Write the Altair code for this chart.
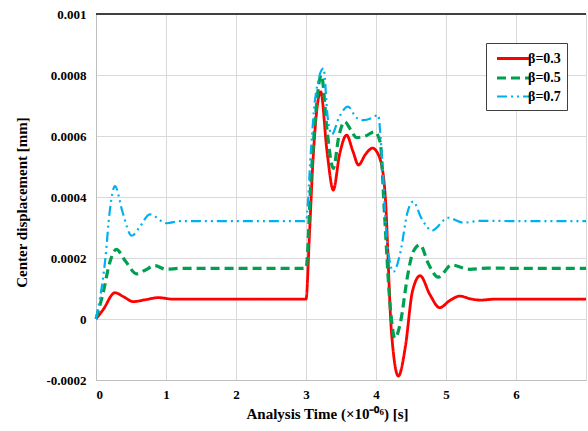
import altair as alt
import pandas as pd

# ---- data ----
series_names = ["β=0.3", "β=0.5", "β=0.7"]

red_t = [0, 0.1, 0.27, 0.4, 0.53, 0.7, 0.89, 1.1, 1.5, 2.0, 2.5, 3.0, 3.05, 3.1, 3.21, 3.3, 3.39,
         3.48, 3.58, 3.67, 3.75, 3.85, 3.95, 4.05, 4.13, 4.22, 4.32, 4.42, 4.52, 4.63, 4.77, 4.91,
         5.05, 5.2, 5.35, 5.49, 5.7, 6.0, 6.5, 7.0]
red_v = [0, 0.00003, 0.000086, 0.000072, 0.000057, 0.000063, 0.00007, 0.000065, 0.000065, 0.000065,
         0.000065, 0.000065, 0.00028, 0.00052, 0.000745, 0.00055, 0.000423, 0.00054, 0.000603,
         0.00055, 0.000505, 0.00054, 0.00056, 0.00053, 0.00041, -0.00004, -0.000187, -0.00009,
         0.00009, 0.000142, 0.00008, 0.000037, 0.00006, 0.000075, 0.000066, 0.000062, 0.000065,
         0.000065, 0.000065, 0.000065]

green_t = [0, 0.1, 0.2, 0.29, 0.42, 0.58, 0.7, 0.84, 1.0, 1.2, 2.0, 3.0, 3.07, 3.12, 3.22, 3.3,
           3.39, 3.47, 3.55, 3.64, 3.72, 3.85, 3.98, 4.06, 4.12, 4.2, 4.27, 4.35, 4.45, 4.53, 4.63,
           4.75, 4.89, 5.08, 5.34, 5.6, 6.0, 7.0]
green_v = [0, 0.000084, 0.000188, 0.000228, 0.00019, 0.000148, 0.00016, 0.000175, 0.000163,
           0.000166, 0.000166, 0.000166, 0.00045, 0.00062, 0.0008, 0.00062, 0.000494, 0.0006,
           0.000647, 0.00062, 0.000595, 0.0006, 0.000614, 0.00058, 0.00035, 0.00005, -0.000063,
           -0.00001, 0.00014, 0.00022, 0.000243, 0.00018, 0.000137, 0.000177, 0.000163, 0.000167,
           0.000166, 0.000166]

blue_t = [0, 0.13, 0.2, 0.27, 0.38, 0.51, 0.62, 0.77, 1.01, 1.2, 2.0, 3.0, 3.07, 3.13, 3.25,
          3.31, 3.37, 3.47, 3.6, 3.72, 3.82, 3.95, 4.03, 4.08, 4.16, 4.25, 4.35, 4.45, 4.53, 4.65,
          4.8, 5.03, 5.25, 5.5, 6.0, 7.0]
blue_v = [0, 0.00019, 0.00036, 0.000436, 0.00035, 0.000273, 0.0003, 0.000343, 0.000314, 0.000321,
          0.000321, 0.000321, 0.00055, 0.00072, 0.000822, 0.00066, 0.000605, 0.00066, 0.000696,
          0.00066, 0.000652, 0.00066, 0.000669, 0.00055, 0.00025, 0.000155, 0.00022, 0.00035,
          0.000385, 0.00033, 0.00029, 0.000332, 0.000316, 0.000322, 0.000321, 0.000321]

x_ticks = [0, 1, 2, 3, 4, 5, 6, 7]
y_ticks = [-0.0002, 0, 0.0002, 0.0004, 0.0006, 0.0008, 0.001]

rows = []
for name, ts, vs in zip(series_names, [red_t, green_t, blue_t], [red_v, green_v, blue_v]):
    for i, (t, v) in enumerate(zip(ts, vs)):
        rows.append({"series": name, "t": t, "v": v, "order": i})
df = pd.DataFrame(rows)

FONT = "Liberation Serif"

x_enc = alt.X(
    "t:Q",
    scale=alt.Scale(domain=[0, 7], nice=False, zero=False),
    axis=alt.Axis(
        values=x_ticks,
        labelExpr="datum.value > 6.5 ? '' : format(datum.value, 'd')",
        title="Analysis Time (×10⁻⁰⁶) [s]",
        titleX=231, titleY=33, titleBaseline="middle",
        titleFont=FONT, titleFontSize=15, titleFontWeight="bold", titleColor="black",
        labelFont=FONT, labelFontSize=13, labelFontWeight="bold", labelColor="black",
        labelPadding=8, ticks=False,
        gridColor="#d9d9d9", domainColor="#bfbfbf", grid=True,
    ),
)
y_enc = alt.Y(
    "v:Q",
    scale=alt.Scale(domain=[-0.0002, 0.001], nice=False, zero=False),
    axis=alt.Axis(
        values=y_ticks,
        labelExpr="abs(datum.value) < 1e-12 ? '0' : replace(format(datum.value, '.4~f'), '\u2212', '-')",
        title="Center displacement [mm]",
        titleX=-75, titleY=188, titleAngle=-90, titleAlign="center", titleBaseline="middle",
        titleFont=FONT, titleFontSize=15, titleFontWeight="bold", titleColor="black",
        labelFont=FONT, labelFontSize=13, labelFontWeight="bold", labelColor="black",
        labelPadding=10, ticks=False,
        gridColor="#d9d9d9", domainColor="#bfbfbf", grid=True,
    ),
)

legend = alt.Legend(
    orient="none", legendX=390, legendY=29,
    symbolType="M-0.625,0H3.375", symbolSize=256,
    labelFont=FONT, labelFontSize=14, labelFontWeight="bold", labelColor="black",
    labelOffset=16, padding=6, rowPadding=2,
    fillColor="white", strokeColor="#404040",
)

lines = alt.Chart(df).mark_line(interpolate="monotone").encode(
    x=x_enc,
    y=y_enc,
    order="order:Q",
    color=alt.Color("series:N", title=None,
                    scale=alt.Scale(domain=series_names, range=["#ff0000", "#00a050", "#00b0f0"]),
                    legend=legend),
    strokeDash=alt.StrokeDash("series:N", title=None,
                              scale=alt.Scale(domain=series_names,
                                              range=[[1, 0], [9, 5], [10, 4, 2, 4, 2, 4]]),
                              legend=legend),
    strokeWidth=alt.StrokeWidth("series:N", title=None,
                                scale=alt.Scale(type="ordinal", domain=series_names, range=[2.8, 3.2, 2.2]),
                                legend=legend),
)

top_rule = alt.Chart(df).mark_rule(color="#404040", strokeWidth=1).encode(y=alt.datum(0.001))

chart = alt.layer(lines, top_rule).properties(
    width=490, height=366,
    autosize=alt.AutoSizeParams(type="none"),
    padding={"left": 96, "top": 14, "right": 2, "bottom": 51},
).configure_view(stroke=None).configure(background="white")

chart.save("out.html", embed_options={"renderer": "svg", "actions": False})
